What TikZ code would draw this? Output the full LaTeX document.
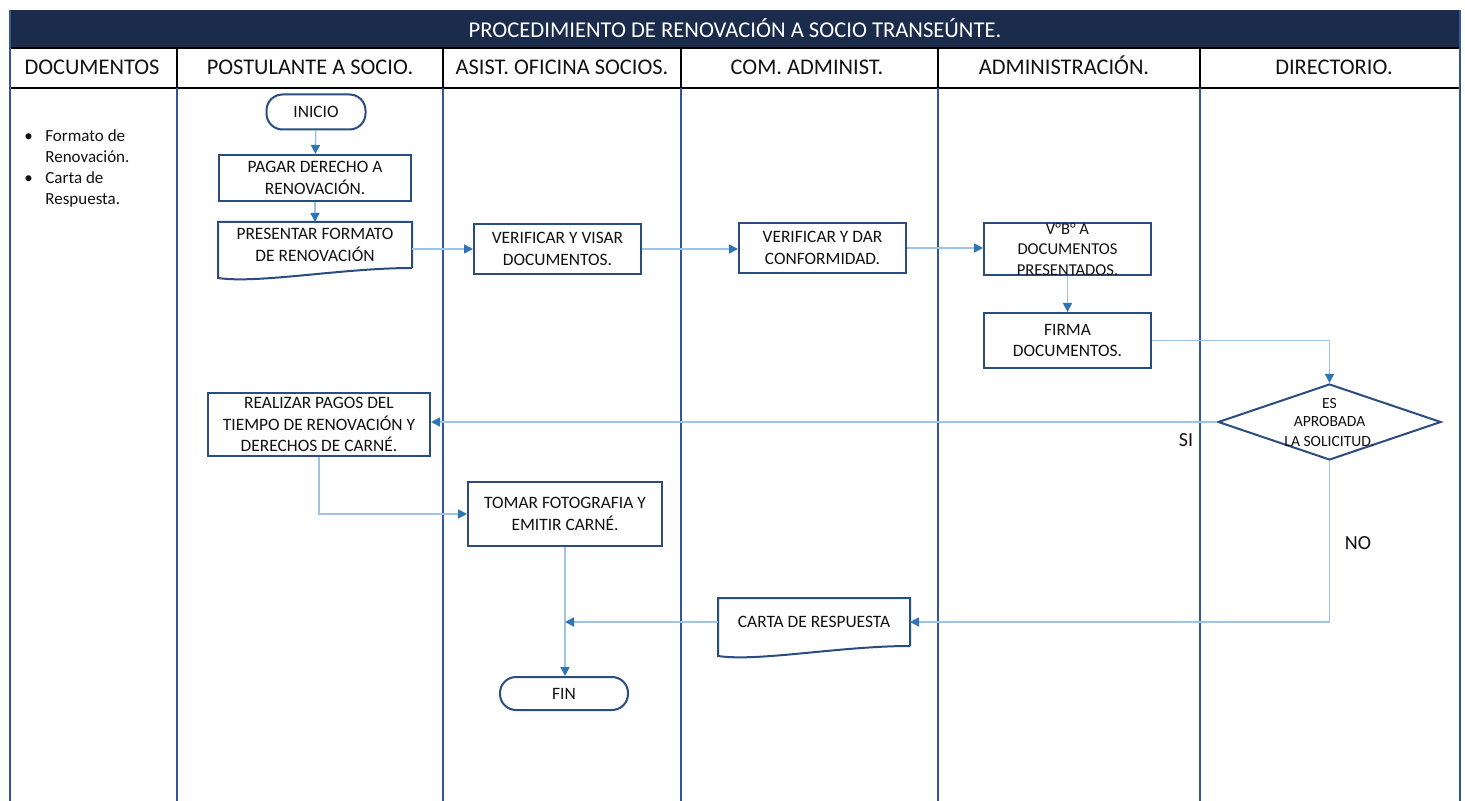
\documentclass[tikz,border=0pt]{standalone}
\usepackage{fontspec}
\setmainfont{Carlito}
\usetikzlibrary{shapes.geometric}
\usetikzlibrary{arrows.meta}

\definecolor{navy}{HTML}{1B2B4B}
\definecolor{laneblue}{HTML}{34559B}
\definecolor{boxblue}{HTML}{2B4C80}
\definecolor{flowblue}{HTML}{9DC3E6}
\definecolor{tipblue}{HTML}{2E75B6}
\definecolor{inkgray}{HTML}{111111}

\begin{document}
\begin{tikzpicture}[x=0.5pt, y=-0.5pt,
  box/.style={draw=boxblue, line width=1pt, fill=white, text=inkgray, align=center,
    font=\fontsize{8.7}{10.9}\selectfont, inner sep=0pt},
  term/.style={box, rounded corners=8pt},
  docbox/.style={box, draw=none, fill=none},
  flow/.style={draw=flowblue, line width=0.8pt,
    -{Triangle[length=4.5pt, width=4.5pt, color=tipblue]}},
  lane/.style={draw=laneblue, line width=1pt},
  headtxt/.style={font=\fontsize{11.2}{13}\selectfont, text=inkgray,
    text height=8pt, text depth=2pt}
]

 \useasboundingbox (0,0) rectangle (1465,801);

 % Title bar
 \fill [navy] (10,10) rectangle (1460,48);
 \node [font=\fontsize{11.3}{13}\selectfont, text=white] (title) at (735,28)
   {PROCEDIMIENTO DE RENOVACIÓN A SOCIO TRANSEÚNTE.};

 % Header row of the lanes
 \draw [black, line width=0.8pt] (10,48) -- (1460,48);
 \draw [black, line width=1pt] (10,88) -- (1460,88);
 \draw [black, line width=0.8pt] (177,48) -- (177,88);
 \draw [black, line width=0.8pt] (443,48) -- (443,88);
 \draw [black, line width=0.8pt] (681,48) -- (681,88);
 \draw [black, line width=0.8pt] (938,48) -- (938,88);
 \draw [black, line width=0.8pt] (1200,48) -- (1200,88);
 \node [headtxt] (hdocs) at (92,69) {DOCUMENTOS};
 \node [headtxt] (hpost) at (310,69) {POSTULANTE A SOCIO.};
 \node [headtxt] (hasist) at (562,69) {ASIST. OFICINA SOCIOS.};
 \node [headtxt] (hcom) at (807,69) {COM. ADMINIST.};
 \node [headtxt] (hadmin) at (1064,69) {ADMINISTRACIÓN.};
 \node [headtxt] (hdir) at (1334,69) {DIRECTORIO.};

 % Lane borders
 \draw [lane] (10,10) -- (10,801);
 \draw [lane] (177,88) -- (177,801);
 \draw [lane] (443,88) -- (443,801);
 \draw [lane] (681,88) -- (681,801);
 \draw [lane] (938,88) -- (938,801);
 \draw [lane] (1200,88) -- (1200,801);
 \draw [lane] (1460,10) -- (1460,801);

 % Documents used
 \node [anchor=north west, align=left, inner sep=0pt, text=inkgray,
   font=\fontsize{8.5}{10.5}\selectfont] (docs) at (24,129)
   {\makebox[10.5pt][l]{\textbullet}Formato de\\
    \hspace*{10.5pt}Renovación.\\
    \makebox[10.5pt][l]{\textbullet}Carta de\\
    \hspace*{10.5pt}Respuesta.};

 % Postulante lane
 \node [term, minimum width=49.5pt, minimum height=17.5pt] (inicio) at (316,112) {INICIO};
 \node [box, minimum width=96pt, minimum height=23pt] (pagar) at (315,178)
   {PAGAR DERECHO A\\RENOVACIÓN.};
 \node [docbox, minimum width=96pt, minimum height=22pt] (presentar) at (315,245)
   {PRESENTAR FORMATO\\DE RENOVACIÓN};
 \draw [boxblue, line width=1pt] (presentar.south east) -- (presentar.north east)
   -- (presentar.north west) -- ([yshift=-5pt]presentar.south west)
   .. controls +(40,6) and +(-70,0) .. (presentar.south east);
 \node [box, minimum width=111pt, minimum height=31.5pt] (realizar) at (319,424.5)
   {REALIZAR PAGOS DEL\\TIEMPO DE RENOVACIÓN Y\\DERECHOS DE CARNÉ.};

 % Asistente lane
 \node [box, minimum width=83.5pt, minimum height=25pt] (visar) at (557.5,249)
   {VERIFICAR Y VISAR\\DOCUMENTOS.};
 \node [box, minimum width=97pt, minimum height=32pt] (tomar) at (565,514)
   {TOMAR FOTOGRAFIA Y\\EMITIR CARNÉ.};
 \node [term, minimum width=64pt, minimum height=16.5pt] (fin) at (564,693.5) {FIN};

 % Comite lane
 \node [box, minimum width=83.5pt, minimum height=25pt] (conform) at (822.5,248)
   {VERIFICAR Y DAR\\CONFORMIDAD.};
 \node [docbox, minimum width=95pt, minimum height=23pt] (carta) at (814,622)
   {CARTA DE RESPUESTA};
 \draw [boxblue, line width=1pt] (carta.south east) -- (carta.north east)
   -- (carta.north west) -- ([yshift=-5pt]carta.south west)
   .. controls +(40,6) and +(-70,0) .. (carta.south east);

 % Administracion lane
 \node [box, minimum width=83.5pt, minimum height=26pt,
   label={[align=center, text=inkgray, font=\fontsize{8.3}{10.3}\selectfont]center:V°B° A\\DOCUMENTOS\\PRESENTADOS.}]
   (vobo) at (1067.5,249) {};
 \node [box, minimum width=83.5pt, minimum height=27.5pt] (firma) at (1067.5,340.5)
   {FIRMA\\DOCUMENTOS.};

 % Directorio lane, decision
 \node [diamond, draw=boxblue, line width=1pt, fill=white, inner sep=0pt,
   minimum width=111.5pt, minimum height=38pt,
   label={[align=center, text=inkgray, font=\fontsize{7.8}{9.5}\selectfont]center:ES\\APROBADA\\LA SOLICITUD.}]
   (dec) at (1329.5,422) {};

 % Connectors
 \draw [flow] (inicio) -- (pagar);
 \draw [flow] (pagar) -- (presentar);
 \draw [flow] (visar.west -| presentar.east) -- (visar.west);
 \draw [flow] (visar.east) -- (visar.east -| conform.west);
 \draw [flow] (conform.east) -- (conform.east -| vobo.west);
 \draw [flow] (vobo) -- (firma);
 \draw [flow] (firma.east) -| (dec.north);
 \draw [flow] (dec.west) -- (dec.west -| realizar.east);
 \draw [flow] (dec.south) |- (carta.east);
 \draw [flow] (realizar.south) |- (tomar.west);
 \draw [flow] (tomar.south) -- (tomar.south |- fin.north);
 \coordinate (join) at (tomar.south |- carta.west);
 \draw [flow] (carta.west) -- (join);

 % Branch labels
 \node [font=\fontsize{10}{12}\selectfont, text=inkgray] (si) at (1186,440) {SI};
 \node [font=\fontsize{10}{12}\selectfont, text=inkgray] (no) at (1358,543) {NO};

\end{tikzpicture}
\end{document}
